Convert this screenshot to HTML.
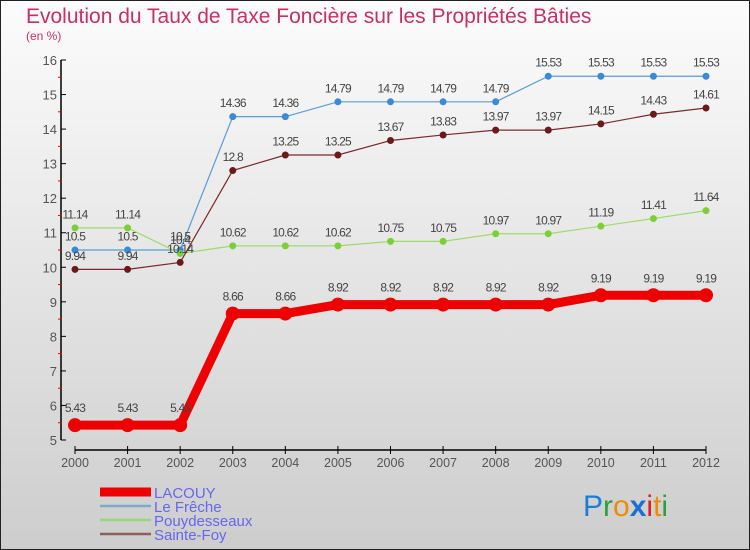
<!DOCTYPE html>
<html><head><meta charset="utf-8"><style>
body{margin:0}
#wrap{position:relative;width:750px;height:550px;overflow:hidden;font-family:"Liberation Sans",sans-serif}
</style></head><body>
<div id="wrap">
<svg id="chart" width="750" height="550" xmlns="http://www.w3.org/2000/svg">
<defs>
<linearGradient id="bg" x1="0" y1="0" x2="0" y2="1"><stop offset="0" stop-color="#fcfcfc"/><stop offset="1" stop-color="#cdcdcd"/></linearGradient>
</defs>
<rect x="0.5" y="0.5" width="749" height="549" fill="url(#bg)" stroke="#222"/>
<text x="26" y="23" font-size="21" fill="#c8305f">Evolution du Taux de Taxe Foncière sur les Propriétés Bâties</text>
<text x="26" y="40" font-size="12" fill="#c8305f">(en %)</text>
<g id="axes"></g>
<g id="series"></g>
<g id="legend"></g>
<g font-size="30" font-family="Liberation Sans,sans-serif">
<text x="583" y="516"><tspan fill="#1a7fd4">P</tspan><tspan fill="#2aa040">r</tspan><tspan fill="#f08a00">o</tspan><tspan fill="#1a6fd4" font-weight="bold">x</tspan><tspan fill="#e02020">i</tspan><tspan fill="#f08a00">t</tspan><tspan fill="#2aa040">i</tspan></text>
</g>
</svg>
</div>
<script>
const years = [2000,2001,2002,2003,2004,2005,2006,2007,2008,2009,2010,2011,2012];
const yTicks = [5,6,7,8,9,10,11,12,13,14,15,16];
const lacouy = [5.43,5.43,5.43,8.66,8.66,8.92,8.92,8.92,8.92,8.92,9.19,9.19,9.19];
const leFreche = [10.5,10.5,10.5,14.36,14.36,14.79,14.79,14.79,14.79,15.53,15.53,15.53,15.53];
const pouydesseaux = [11.14,11.14,10.4,10.62,10.62,10.62,10.75,10.75,10.97,10.97,11.19,11.41,11.64];
const sainteFoy = [9.94,9.94,10.14,12.8,13.25,13.25,13.67,13.83,13.97,13.97,14.15,14.43,14.61];
const seriesNames = ["LACOUY","Le Frêche","Pouydesseaux","Sainte-Foy"];

const NS="http://www.w3.org/2000/svg";
const X=i=>75+(706-75)*i/(years.length-1);
const Y=v=>440-(v-5)*(440-60)/11;
function mk(tag,attrs,parent){const e=document.createElementNS(NS,tag);for(const k in attrs)e.setAttribute(k,attrs[k]);parent.appendChild(e);return e;}
const axes=document.getElementById('axes');
let l=mk('line',{x1:61,y1:60,x2:61,y2:440,stroke:'#000','stroke-width':1.5},axes);


l=mk('line',{x1:75,y1:450,x2:706,y2:450,stroke:'#000','stroke-width':1.5},axes);


yTicks.forEach(v=>{
  mk('line',{x1:61,y1:Y(v),x2:66,y2:Y(v),stroke:'#000'},axes);
  if(v<16) mk('line',{x1:58,y1:Y(v+0.5),x2:62,y2:Y(v+0.5),stroke:'#e00'},axes);
  const t=mk('text',{x:57,y:Y(v)+5,'font-size':13,fill:'#555','text-anchor':'end'},axes);
  t.textContent=v;
  
  
});
years.forEach((yr,i)=>{
  mk('line',{x1:X(i),y1:446,x2:X(i),y2:454,stroke:'#000'},axes);
  const t=mk('text',{x:X(i),y:467,'font-size':12.5,fill:'#555','text-anchor':'middle'},axes);
  t.textContent=yr;
  
  
});
const sg=document.getElementById('series');
const defs=[
 {d:leFreche,c:'#5b9bd5',w:1.2,r:3.5,fill:'#3a8ad8',name:'le-freche'},
 {d:pouydesseaux,c:'#9ddc6a',w:1.2,r:3.5,fill:'#7ccf3a',name:'pouydesseaux'},
 {d:sainteFoy,c:'#7a2a2a',w:1.2,r:3.5,fill:'#6a1a1a',name:'sainte-foy'},
 {d:lacouy,c:'#ee0000',w:9,r:7,fill:'#ee0000',name:'lacouy'}
];
defs.forEach(s=>{
  const g=mk('g',{},sg);
  
  
  const p=mk('polyline',{points:s.d.map((v,i)=>X(i)+','+Y(v)).join(' '),fill:'none',stroke:s.c,'stroke-width':s.w},g);
  
  
  s.d.forEach((v,i)=>{
    const c=mk('circle',{cx:X(i),cy:Y(v),r:s.r,fill:s.fill},g);
    
    
    const t=mk('text',{x:X(i),y:Y(v)-(s.r+6),'font-size':12,fill:'#444','text-anchor':'middle','letter-spacing':'-0.8'},g);
    t.textContent=v;
    
    
  });
});
const lg=document.getElementById('legend');
const lc=[['#ee0000',9],['#7fa9c9',2.5],['#99d67a',2.5],['#8a6060',2.5]];
seriesNames.forEach((n,i)=>{
  const y=492+i*14;
  const g=mk('g',{},lg);
  
  
  mk('line',{x1:100,y1:y,x2:151,y2:y,stroke:lc[i][0],'stroke-width':lc[i][1]},g);
  const t=mk('text',{x:154,y:y+6,'font-size':15,fill:'#6666ee'},g);
  t.textContent=n;
});
</script>
</body></html>
